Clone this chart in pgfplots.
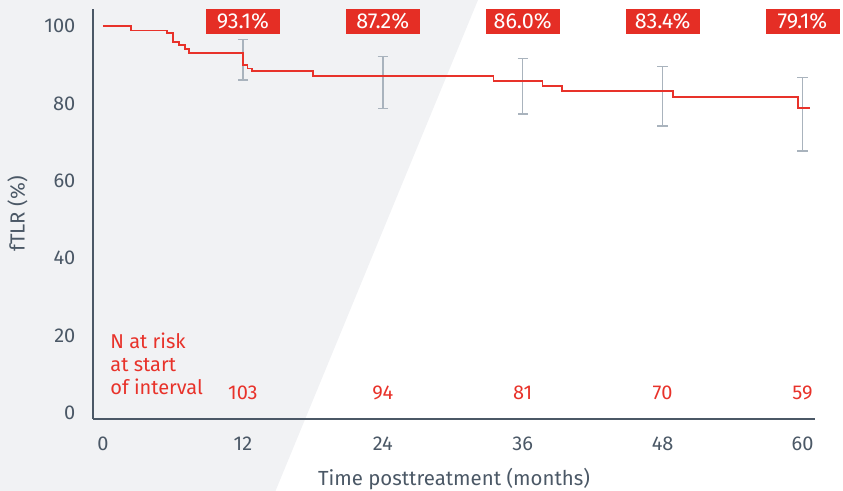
\documentclass[border=0pt]{standalone}
\usepackage{pgfplots}
\pgfplotsset{compat=1.18}
\usepackage{fontspec}
\setmainfont{Fira Sans}
\definecolor{txtgray}{HTML}{4B5866}
\definecolor{kmred}{HTML}{E8322A}
\definecolor{boxred}{HTML}{E52E25}
\definecolor{bargray}{HTML}{A9B3BD}
\definecolor{bggray}{HTML}{F1F2F4}
\pgfdeclarelayer{background}
\pgfsetlayers{background,main}

\begin{document}
\begin{tikzpicture}
\begin{axis}[
    name=ax,
    scale only axis,
    width=361pt, height=205pt,
    xmin=-0.857, xmax=61.07,
    ymin=-1.55, ymax=104.47,
    axis lines*=left,
    axis line style={txtgray, line width=0.6pt},
    xtick={0,12,24,36,48,60},
    ytick={0,20,40,60,80,100},
    major tick length=0pt,
    tick label style={font=\fontsize{10}{12}\selectfont, text=txtgray},
    /pgf/number format/assume math mode=true,
    xticklabel style={yshift=-5.3pt},
    yticklabel style={xshift=-5.3pt},
    xlabel={Time posttreatment (months)},
    ylabel={fTLR (\%)},
    label style={font=\fontsize{10.2}{12}\selectfont, text=txtgray},
    xlabel style={yshift=-2.2pt},
    ylabel style={yshift=1.5pt},
    clip=false,
]
% error bars (95% CI)
\addplot[draw=none, mark=none,
    error bars/.cd, y dir=both, y explicit,
    error bar style={bargray, line width=0.7pt},
    error mark options={bargray, line width=0.7pt, rotate=90, mark size=2.6pt}]
    coordinates {
    (12,93.1) += (0,3.5) -= (0,7.0)
    (24,87.2) += (0,5.0) -= (0,8.4)
    (36,86.0) += (0,5.6) -= (0,8.7)
    (48,83.4) += (0,6.2) -= (0,9.2)
    (60,79.1) += (0,7.7) -= (0,11.4)
    };
% Kaplan-Meier curve
\addplot[const plot, kmred, line width=0.9pt, mark=none] coordinates {
    (0,100) (2.4,98.9) (5.5,98.2) (6.0,95.9) (6.5,95.2) (7.0,94.1)
    (7.4,93.0) (12.0,90.0) (12.4,89.1) (12.8,88.4) (18.0,87.2)
    (33.5,85.9) (37.7,84.5) (39.4,83.3) (48.9,81.8) (59.6,78.9)
    (60.6,78.9)
};
% percentage boxes
\foreach \xx/\lab in {12/93.1, 24/87.2, 36/86.0, 48/83.4, 60/79.1} {
    \edef\tmp{\noexpand\node[fill=boxred, text=white, minimum width=37pt,
        minimum height=12.3pt, inner sep=0pt,
        font=\noexpand\fontsize{10.8}{12}\noexpand\selectfont]
        at (axis cs:\xx,101.3) {\lab\noexpand\%};}
    \tmp
}
% numbers at risk
\foreach \xx/\n in {12/103, 24/94, 36/81, 48/70, 60/59} {
    \edef\tmp{\noexpand\node[text=kmred, inner sep=0pt,
        font=\noexpand\fontsize{10}{12}\noexpand\selectfont]
        at (axis cs:\xx,5.3) {\n};}
    \tmp
}
\node[text=kmred, inner sep=0pt, align=left, anchor=south west,
    font=\fontsize{10}{11.5}\selectfont] at (axis cs:0.6,4.6)
    {N at risk\\at start\\of interval};
\end{axis}
\begin{pgfonlayer}{background}
\fill[bggray] ([shift={(-46.5pt,209.5pt)}]ax.south west) --
    ([shift={(192.5pt,209.5pt)}]ax.south west) --
    ([shift={(91.25pt,-36pt)}]ax.south west) --
    ([shift={(-46.5pt,-36pt)}]ax.south west) -- cycle;
\end{pgfonlayer}
\pgfresetboundingbox
\path[use as bounding box] ([shift={(-46.5pt,209.5pt)}]ax.south west)
    rectangle ([shift={(375pt,-36pt)}]ax.south west);
\end{tikzpicture}
\end{document}
